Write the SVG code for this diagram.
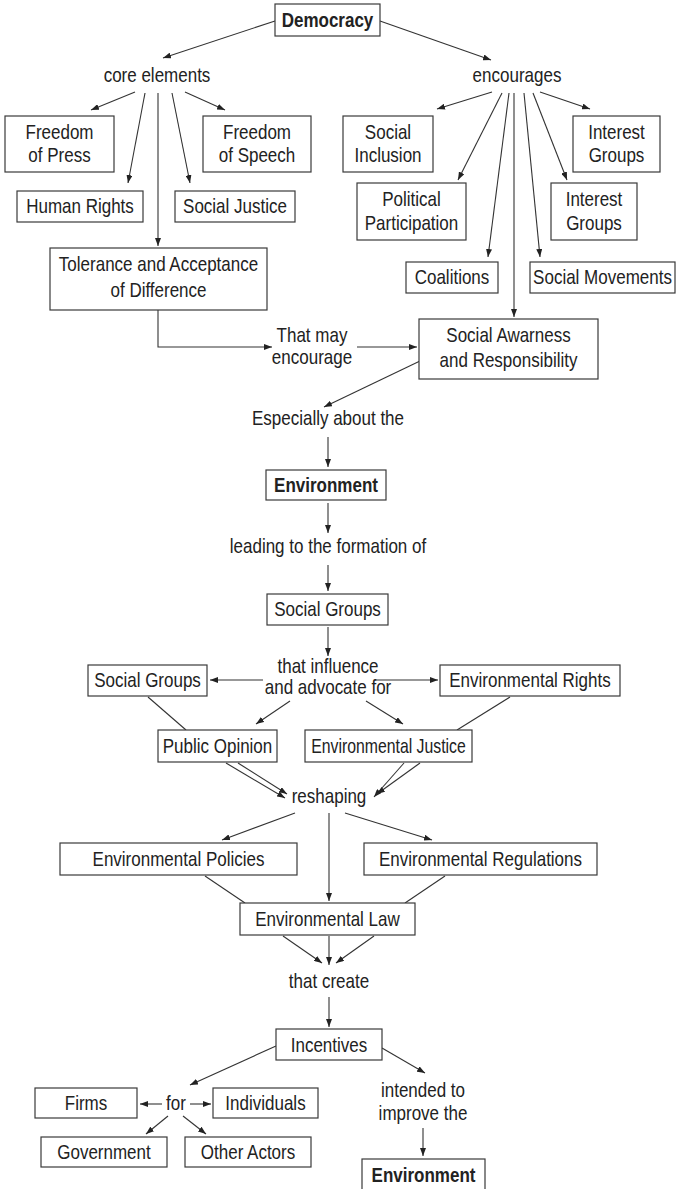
<svg xmlns="http://www.w3.org/2000/svg" width="676" height="1189" viewBox="0 0 676 1189">
<style>
.box{fill:#fff;stroke:#3a3a3a;stroke-width:1.2}
.t{font-family:"Liberation Sans",Arial,sans-serif;font-size:20px;fill:#222;text-anchor:middle}
.b{font-weight:bold}
#connectors line,#connectors path{stroke:#333;stroke-width:1.1;fill:none}
.a{marker-end:url(#ah)}
</style>
<defs>
<marker id="ah" viewBox="0 0 8 6" refX="8" refY="3" markerWidth="8" markerHeight="6" markerUnits="userSpaceOnUse" orient="auto">
<path d="M0,0 L8,3 L0,6 z" fill="#222"/>
</marker>
</defs>
<rect width="676" height="1189" fill="#fff"/>
<g id="connectors">
<line class="a" x1="275" y1="21" x2="163" y2="58"/>
<line class="a" x1="380" y1="21" x2="491" y2="60"/>
<line class="a" x1="135" y1="92" x2="91" y2="110"/>
<line class="a" x1="145" y1="93" x2="128" y2="183"/>
<line class="a" x1="158" y1="93" x2="158" y2="246"/>
<line class="a" x1="172" y1="93" x2="190" y2="183"/>
<line class="a" x1="185" y1="92" x2="225" y2="110"/>
<line class="a" x1="492" y1="92" x2="437" y2="109"/>
<line class="a" x1="502" y1="93" x2="458" y2="180"/>
<line class="a" x1="509" y1="93" x2="488" y2="257"/>
<line class="a" x1="514" y1="93" x2="514" y2="317"/>
<line class="a" x1="524" y1="93" x2="540" y2="257"/>
<line class="a" x1="533" y1="93" x2="567" y2="180"/>
<line class="a" x1="540" y1="92" x2="590" y2="109"/>
<path class="a" d="M158,310 V347 H272"/>
<line class="a" x1="357" y1="347" x2="417" y2="347"/>
<line class="a" x1="420" y1="361" x2="324" y2="407"/>
<line class="a" x1="328" y1="437" x2="328" y2="467"/>
<line class="a" x1="328" y1="503" x2="328" y2="533"/>
<line class="a" x1="328" y1="565" x2="328" y2="591"/>
<line class="a" x1="328" y1="627" x2="328" y2="656"/>
<line class="a" x1="263" y1="680" x2="210" y2="680"/>
<line class="a" x1="375" y1="680" x2="438" y2="680"/>
<line class="a" x1="290" y1="701" x2="256" y2="724"/>
<line class="a" x1="366" y1="701" x2="403" y2="724"/>
<line x1="148" y1="697" x2="186" y2="730"/>
<line x1="510" y1="697" x2="457" y2="730"/>
<line class="a" x1="226" y1="763" x2="285" y2="798"/>
<line class="a" x1="238" y1="763" x2="287" y2="794"/>
<line class="a" x1="404" y1="763" x2="374" y2="797"/>
<line class="a" x1="420" y1="763" x2="377" y2="794"/>
<line class="a" x1="295" y1="813" x2="222" y2="840"/>
<line class="a" x1="329" y1="813" x2="329" y2="901"/>
<line class="a" x1="345" y1="813" x2="432" y2="840"/>
<line x1="205" y1="876" x2="245" y2="903"/>
<line x1="445" y1="876" x2="405" y2="903"/>
<line class="a" x1="283" y1="936" x2="322" y2="963"/>
<line class="a" x1="329" y1="936" x2="329" y2="965"/>
<line class="a" x1="374" y1="936" x2="336" y2="963"/>
<line class="a" x1="329" y1="997" x2="329" y2="1027"/>
<line class="a" x1="276" y1="1046" x2="190" y2="1085"/>
<line class="a" x1="382" y1="1048" x2="425" y2="1073"/>
<line class="a" x1="162" y1="1104" x2="140" y2="1104"/>
<line class="a" x1="190" y1="1104" x2="211" y2="1104"/>
<line class="a" x1="168" y1="1116" x2="146" y2="1134"/>
<line class="a" x1="183" y1="1116" x2="206" y2="1134"/>
<line class="a" x1="423" y1="1128" x2="423" y2="1156"/>
</g>
<g id="democracy"><rect class="box" x="275" y="4" width="105" height="32"/><text class="t b" transform="translate(327.5 27) scale(0.85 1)">Democracy</text></g>
<g id="core-elements"><text class="t" transform="translate(157 82) scale(0.85 1)">core elements</text></g>
<g id="encourages"><text class="t" transform="translate(517 82) scale(0.85 1)">encourages</text></g>
<g id="freedom-press"><rect class="box" x="5" y="116" width="109" height="56"/><text class="t" transform="translate(59.5 0) scale(0.85 1)"><tspan x="0" y="139">Freedom</tspan><tspan x="0" y="162">of Press</tspan></text></g>
<g id="freedom-speech"><rect class="box" x="203" y="116" width="108" height="56"/><text class="t" transform="translate(257 0) scale(0.85 1)"><tspan x="0" y="139">Freedom</tspan><tspan x="0" y="162">of Speech</tspan></text></g>
<g id="human-rights"><rect class="box" x="17" y="191" width="126" height="31"/><text class="t" transform="translate(80 213) scale(0.85 1)">Human Rights</text></g>
<g id="social-justice"><rect class="box" x="175" y="191" width="120" height="31"/><text class="t" transform="translate(235 213) scale(0.85 1)">Social Justice</text></g>
<g id="tolerance"><rect class="box" x="50" y="248" width="217" height="62"/><text class="t" transform="translate(158.5 0) scale(0.85 1)"><tspan x="0" y="271">Tolerance and Acceptance</tspan><tspan x="0" y="297">of Difference</tspan></text></g>
<g id="social-inclusion"><rect class="box" x="343" y="116" width="90" height="56"/><text class="t" transform="translate(388 0) scale(0.85 1)"><tspan x="0" y="139">Social</tspan><tspan x="0" y="162">Inclusion</tspan></text></g>
<g id="political-participation"><rect class="box" x="357" y="183" width="109" height="57"/><text class="t" transform="translate(411.5 0) scale(0.85 1)"><tspan x="0" y="206">Political</tspan><tspan x="0" y="230">Participation</tspan></text></g>
<g id="interest-groups-1"><rect class="box" x="573" y="116" width="87" height="56"/><text class="t" transform="translate(616.5 0) scale(0.85 1)"><tspan x="0" y="139">Interest</tspan><tspan x="0" y="162">Groups</tspan></text></g>
<g id="interest-groups-2"><rect class="box" x="551" y="183" width="86" height="57"/><text class="t" transform="translate(594 0) scale(0.85 1)"><tspan x="0" y="206">Interest</tspan><tspan x="0" y="230">Groups</tspan></text></g>
<g id="coalitions"><rect class="box" x="406" y="262" width="92" height="31"/><text class="t" transform="translate(452 284) scale(0.85 1)">Coalitions</text></g>
<g id="social-movements"><rect class="box" x="530" y="262" width="145" height="31"/><text class="t" transform="translate(602.5 284) scale(0.85 1)">Social Movements</text></g>
<g id="that-may"><text class="t" transform="translate(312 0) scale(0.85 1)"><tspan x="0" y="342">That may</tspan><tspan x="0" y="364">encourage</tspan></text></g>
<g id="social-awareness"><rect class="box" x="419" y="319" width="179" height="60"/><text class="t" transform="translate(508.5 0) scale(0.85 1)"><tspan x="0" y="342">Social Awarness</tspan><tspan x="0" y="367">and Responsibility</tspan></text></g>
<g id="especially"><text class="t" transform="translate(328 425) scale(0.85 1)">Especially about the</text></g>
<g id="environment-1"><rect class="box" x="266" y="470" width="120" height="30"/><text class="t b" transform="translate(326 492) scale(0.85 1)">Environment</text></g>
<g id="leading"><text class="t" transform="translate(328 553) scale(0.85 1)">leading to the formation of</text></g>
<g id="social-groups-1"><rect class="box" x="267" y="594" width="121" height="31"/><text class="t" transform="translate(327.5 616) scale(0.85 1)">Social Groups</text></g>
<g id="influence"><text class="t" transform="translate(328 0) scale(0.85 1)"><tspan x="0" y="673">that influence</tspan><tspan x="0" y="694">and advocate for</tspan></text></g>
<g id="social-groups-2"><rect class="box" x="88" y="665" width="119" height="31"/><text class="t" transform="translate(147.5 687) scale(0.85 1)">Social Groups</text></g>
<g id="environmental-rights"><rect class="box" x="440" y="665" width="180" height="31"/><text class="t" transform="translate(530 687) scale(0.85 1)">Environmental Rights</text></g>
<g id="public-opinion"><rect class="box" x="158" y="730" width="119" height="32"/><text class="t" transform="translate(217.5 753) scale(0.85 1)">Public Opinion</text></g>
<g id="environmental-justice"><rect class="box" x="305" y="730" width="167" height="32"/><text class="t" transform="translate(388.5 753) scale(0.79 1)">Environmental Justice</text></g>
<g id="reshaping"><text class="t" transform="translate(329 803) scale(0.85 1)">reshaping</text></g>
<g id="environmental-policies"><rect class="box" x="60" y="843" width="237" height="32"/><text class="t" transform="translate(178.5 866) scale(0.85 1)">Environmental Policies</text></g>
<g id="environmental-regulations"><rect class="box" x="364" y="843" width="233" height="32"/><text class="t" transform="translate(480.5 866) scale(0.85 1)">Environmental Regulations</text></g>
<g id="environmental-law"><rect class="box" x="240" y="903" width="175" height="32"/><text class="t" transform="translate(327.5 926) scale(0.85 1)">Environmental Law</text></g>
<g id="that-create"><text class="t" transform="translate(329 988) scale(0.85 1)">that create</text></g>
<g id="incentives"><rect class="box" x="276" y="1029" width="106" height="31"/><text class="t" transform="translate(329 1052) scale(0.85 1)">Incentives</text></g>
<g id="for"><text class="t" transform="translate(176 1110) scale(0.85 1)">for</text></g>
<g id="firms"><rect class="box" x="35" y="1088" width="102" height="30"/><text class="t" transform="translate(86 1110) scale(0.85 1)">Firms</text></g>
<g id="individuals"><rect class="box" x="213" y="1088" width="105" height="30"/><text class="t" transform="translate(265.5 1110) scale(0.85 1)">Individuals</text></g>
<g id="government"><rect class="box" x="41" y="1137" width="126" height="30"/><text class="t" transform="translate(104 1159) scale(0.85 1)">Government</text></g>
<g id="other-actors"><rect class="box" x="185" y="1137" width="126" height="30"/><text class="t" transform="translate(248 1159) scale(0.85 1)">Other Actors</text></g>
<g id="intended"><text class="t" transform="translate(423 0) scale(0.85 1)"><tspan x="0" y="1097">intended to</tspan><tspan x="0" y="1120">improve the</tspan></text></g>
<g id="environment-2"><rect class="box" x="362" y="1159" width="123" height="36"/><text class="t b" transform="translate(423.5 1182) scale(0.85 1)">Environment</text></g>
</svg>
